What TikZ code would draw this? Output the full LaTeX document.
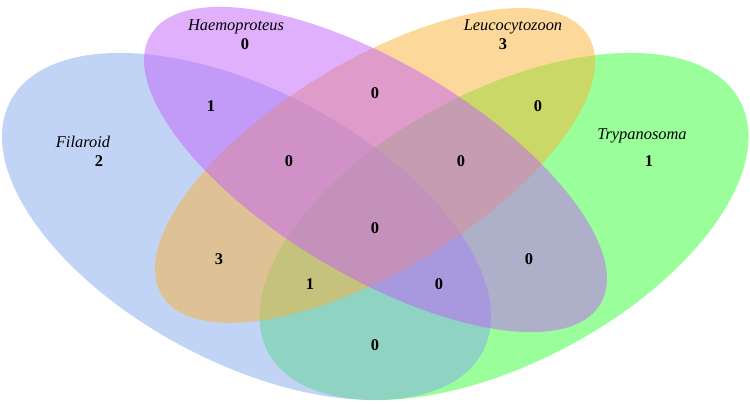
\documentclass[tikz,border=0pt]{standalone}
\usepackage{fontspec}
\setmainfont{Liberation Serif}
\definecolor{cblue}{RGB}{133,169,237}
\definecolor{cpurple}{RGB}{195,97,249}
\definecolor{corange}{RGB}{251,177,55}
\definecolor{cgreen}{RGB}{53,255,53}
\tikzset{
  setfill/.style={fill=#1, fill opacity=0.5, draw=none},
  setlabel/.style={font=\fontsize{16.4}{18}\selectfont\itshape, inner sep=0pt, anchor=center},
  count/.style={font=\fontsize{16.4}{18}\selectfont\bfseries, inner sep=0pt, anchor=center}
}
\begin{document}
\begin{tikzpicture}[x=1pt,y=1pt]
\useasboundingbox (0,0) rectangle (750,404);
\begin{scope}
\clip (0,0) rectangle (750,404);
% Trypanosoma (green)
\fill[setfill=cgreen, rotate around={28:(504,177.5)}] (504,177.5) ellipse [x radius=267.3pt, y radius=135.8pt];
% Filaroid (blue)
\fill[setfill=cblue, rotate around={-28:(246.5,177.5)}] (246.5,177.5) ellipse [x radius=267.3pt, y radius=135.8pt];
% Leucocytozoon (orange)
\fill[setfill=corange, rotate around={31.3:(375,238.5)}] (375,238.5) ellipse [x radius=249.6pt, y radius=104.4pt];
% Haemoproteus (purple)
\fill[setfill=cpurple, rotate around={-30.9:(375.5,234.5)}] (375.5,234.5) ellipse [x radius=262.1pt, y radius=106.3pt];
\end{scope}
% set labels
\node[setlabel] (lA) at (83,262) {Filaroid};
\node[setlabel] (lB) at (236,377) {Haemoproteus};
\node[setlabel] (lC) at (513,377) {Leucocytozoon};
\node[setlabel] (lD) at (642,268) {Trypanosoma};
% counts
\node[count] (nA) at (99,243) {2};
\node[count] (nB) at (245,360) {0};
\node[count] (nC) at (503,360) {3};
\node[count] (nD) at (649,243) {1};
\node[count] (nAB) at (211,298) {1};
\node[count] (nBC) at (375,311) {0};
\node[count] (nCD) at (538,298) {0};
\node[count] (nABC) at (289,243) {0};
\node[count] (nBCD) at (461,243) {0};
\node[count] (nABCD) at (375,176) {0};
\node[count] (nAC) at (219,145) {3};
\node[count] (nACD) at (310,120) {1};
\node[count] (nABD) at (439,120) {0};
\node[count] (nBD) at (529,145) {0};
\node[count] (nAD) at (375,59) {0};
\end{tikzpicture}
\end{document}
